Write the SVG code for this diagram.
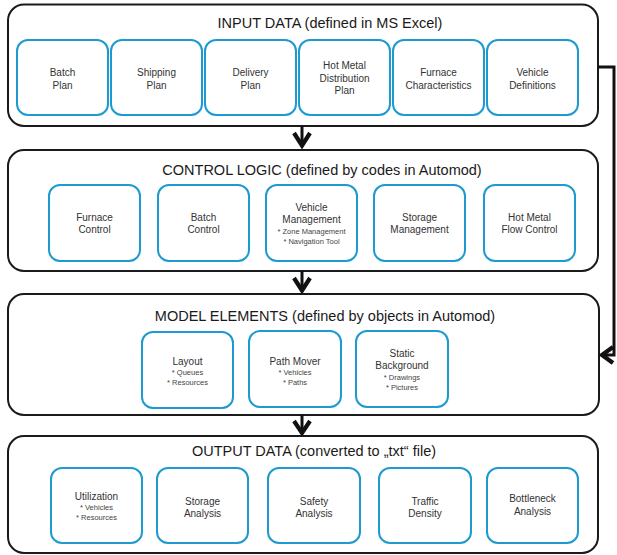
<svg xmlns="http://www.w3.org/2000/svg" width="617" height="555" viewBox="0 0 617 555">
<style>
.outer{fill:#fff;stroke:#1a1a1a;stroke-width:2}
.inner{fill:#fff;stroke:#1d9bd1;stroke-width:2}
.title{font-family:"Liberation Sans",Arial,sans-serif;font-size:14.5px;fill:#1a1a1a;text-anchor:middle}
.lbl{font-family:"Liberation Sans",Arial,sans-serif;font-size:10px;fill:#333;text-anchor:middle}
.sub{font-family:"Liberation Sans",Arial,sans-serif;font-size:7.5px;fill:#444;text-anchor:middle}
.conn{fill:none;stroke:#111;stroke-width:3}
.head{fill:none;stroke:#111;stroke-width:4.2;stroke-linejoin:miter;stroke-miterlimit:10}
</style>
<rect width="617" height="555" fill="#fff"/>
<g id="input">
<rect class="outer" x="8" y="4.5" width="590" height="121.5" rx="16"/>
<text class="title" x="330" y="27.5">INPUT DATA (defined in MS Excel)</text>
</g>
<g id="batch-plan"><rect class="inner" x="17" y="40" width="91" height="75" rx="11"/><text class="lbl" x="62.5" y="76">Batch</text><text class="lbl" x="62.5" y="88.5">Plan</text></g>
<g id="shipping-plan"><rect class="inner" x="111" y="40" width="91" height="75" rx="11"/><text class="lbl" x="156.5" y="76">Shipping</text><text class="lbl" x="156.5" y="88.5">Plan</text></g>
<g id="delivery-plan"><rect class="inner" x="205" y="40" width="91" height="75" rx="11"/><text class="lbl" x="250.5" y="76">Delivery</text><text class="lbl" x="250.5" y="88.5">Plan</text></g>
<g id="hot-metal-plan"><rect class="inner" x="299" y="40" width="91" height="75" rx="11"/><text class="lbl" x="344.5" y="69">Hot Metal</text><text class="lbl" x="344.5" y="81.5">Distribution</text><text class="lbl" x="344.5" y="94">Plan</text></g>
<g id="furnace-char"><rect class="inner" x="393" y="40" width="91" height="75" rx="11"/><text class="lbl" x="438.5" y="76">Furnace</text><text class="lbl" x="438.5" y="88.5">Characteristics</text></g>
<g id="vehicle-def"><rect class="inner" x="487" y="40" width="91" height="75" rx="11"/><text class="lbl" x="532.5" y="76">Vehicle</text><text class="lbl" x="532.5" y="88.5">Definitions</text></g>

<g id="control">
<rect class="outer" x="8" y="150" width="590" height="121" rx="16"/>
<text class="title" x="322" y="175">CONTROL LOGIC (defined by codes in Automod)</text>
</g>
<g id="furnace-control"><rect class="inner" x="49" y="185" width="91" height="76" rx="11"/><text class="lbl" x="94.5" y="220.5">Furnace</text><text class="lbl" x="94.5" y="233">Control</text></g>
<g id="batch-control"><rect class="inner" x="158" y="185" width="91" height="76" rx="11"/><text class="lbl" x="203.5" y="220.5">Batch</text><text class="lbl" x="203.5" y="233">Control</text></g>
<g id="vehicle-mgmt"><rect class="inner" x="266" y="185" width="91" height="76" rx="11"/><text class="lbl" x="311.5" y="210.5">Vehicle</text><text class="lbl" x="311.5" y="223">Management</text><text class="sub" x="311.5" y="233.5">* Zone Management</text><text class="sub" x="311.5" y="243.5">* Navigation Tool</text></g>
<g id="storage-mgmt"><rect class="inner" x="374" y="185" width="91" height="76" rx="11"/><text class="lbl" x="419.5" y="220.5">Storage</text><text class="lbl" x="419.5" y="233">Management</text></g>
<g id="hot-metal-flow"><rect class="inner" x="484" y="185" width="91" height="76" rx="11"/><text class="lbl" x="529.5" y="220.5">Hot Metal</text><text class="lbl" x="529.5" y="233">Flow Control</text></g>

<g id="model">
<rect class="outer" x="8" y="294" width="591" height="121" rx="16"/>
<text class="title" x="325" y="321">MODEL ELEMENTS (defined by objects in Automod)</text>
</g>
<g id="layout"><rect class="inner" x="142" y="332" width="91" height="76" rx="11"/><text class="lbl" x="187.5" y="364.5">Layout</text><text class="sub" x="187.5" y="374.5">* Queues</text><text class="sub" x="187.5" y="384.5">* Resources</text></g>
<g id="path-mover"><rect class="inner" x="249" y="331" width="92" height="76" rx="11"/><text class="lbl" x="295" y="364.5">Path Mover</text><text class="sub" x="295" y="374.5">* Vehicles</text><text class="sub" x="295" y="384.5">* Paths</text></g>
<g id="static-bg"><rect class="inner" x="356" y="331" width="92" height="76" rx="11"/><text class="lbl" x="402" y="356.5">Static</text><text class="lbl" x="402" y="369">Background</text><text class="sub" x="402" y="379.5">* Drawings</text><text class="sub" x="402" y="390">* Pictures</text></g>

<g id="output">
<rect class="outer" x="8" y="436" width="590" height="117" rx="16"/>
<text class="title" x="314" y="456">OUTPUT DATA (converted to „txt“ file)</text>
</g>
<g id="utilization"><rect class="inner" x="51" y="468" width="91" height="75" rx="11"/><text class="lbl" x="96.5" y="499.5">Utilization</text><text class="sub" x="96.5" y="509.5">* Vehicles</text><text class="sub" x="96.5" y="520">* Resources</text></g>
<g id="storage-analysis"><rect class="inner" x="157" y="468" width="91" height="75" rx="11"/><text class="lbl" x="202.5" y="504.5">Storage</text><text class="lbl" x="202.5" y="517">Analysis</text></g>
<g id="safety-analysis"><rect class="inner" x="268" y="468" width="92" height="75" rx="11"/><text class="lbl" x="314" y="504.5">Safety</text><text class="lbl" x="314" y="517">Analysis</text></g>
<g id="traffic-density"><rect class="inner" x="379" y="468" width="92" height="75" rx="11"/><text class="lbl" x="425" y="504.5">Traffic</text><text class="lbl" x="425" y="517">Density</text></g>
<g id="bottleneck"><rect class="inner" x="487" y="468" width="91" height="75" rx="11"/><text class="lbl" x="532.5" y="502">Bottleneck</text><text class="lbl" x="532.5" y="514.5">Analysis</text></g>

<g id="connectors">
<line class="conn" x1="302" y1="126" x2="302" y2="146"/>
<polyline class="head" points="294,133 302,145.5 310,133"/>
<line class="conn" x1="302" y1="271" x2="302" y2="291"/>
<polyline class="head" points="294,278 302,290.5 310,278"/>
<line class="conn" x1="302" y1="415" x2="302" y2="433"/>
<polyline class="head" points="294,421 302,433 310,421"/>
<polyline class="conn" points="598,67 614,67 614,355 602,355"/>
<polyline class="head" points="613,347 602,355 613,363"/>
</g>
</svg>
